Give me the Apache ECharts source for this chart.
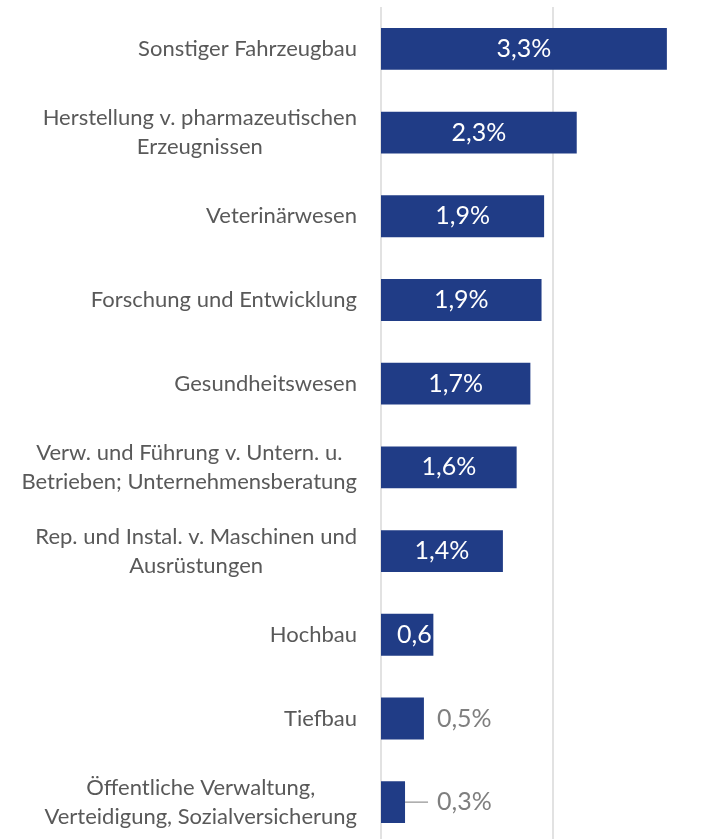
<!DOCTYPE html>
<html>
<head>
<meta charset="utf-8">
<script src="https://cdn.jsdelivr.net/npm/echarts@6/dist/echarts.min.js"></script>
<style>
  html, body { margin: 0; padding: 0; background: #ffffff; }
  #chart { width: 712px; height: 839px; }
</style>
</head>
<body>
<div id="chart"></div>
<script>
// Categories, top to bottom
var categories = [
  'Sonstiger Fahrzeugbau',
  'Herstellung v. pharmazeutischen\nErzeugnissen',
  'Veterinärwesen',
  'Forschung und Entwicklung',
  'Gesundheitswesen',
  'Verw. und Führung v. Untern. u.\nBetrieben; Unternehmensberatung',
  'Rep. und Instal. v. Maschinen und\nAusrüstungen',
  'Hochbau',
  'Tiefbau',
  'Öffentliche Verwaltung,\nVerteidigung, Sozialversicherung'
];
// Values in percent
var values = [3.33, 2.28, 1.90, 1.87, 1.74, 1.58, 1.42, 0.61, 0.50, 0.28];
// Axis ticks (only gridlines visible)
var xTicks = [0, 2, 4];

var BAR = '#203C86';
var FONT = 'Lato';

function fmt(v) { return v.toFixed(1).replace('.', ',') + '%'; }

var data = values.map(function (v, i) {
  var item = { value: v };
  if (v < 0.4) {
    item.label = { position: 'right', distance: 5, color: '#7F7F7F', padding: [0, 0, 0, 9], backgroundColor: 'rgba(255,255,255,0)' };
    item.labelLine = { show: true, lineStyle: { color: '#A6A6A6', width: 1.5 } };
  } else if (v < 0.55) {
    item.label = { position: 'right', distance: 13, color: '#7F7F7F' };
  } else if (v < 1) {
    item.label = { position: 'insideLeft', distance: 16, width: 50, overflow: 'truncate', ellipsis: '' };
  }
  return item;
});

var chart = echarts.init(document.getElementById('chart'), null, { renderer: 'canvas' });
chart.setOption({
  animation: false,
  backgroundColor: '#ffffff',
  grid: { left: 381, top: 7, width: 343.4, height: 837, containLabel: false, outerBoundsMode: 'none' },
  xAxis: {
    type: 'value',
    min: xTicks[0],
    max: xTicks[xTicks.length - 1],
    interval: xTicks[1] - xTicks[0],
    axisLabel: { show: false },
    axisLine: { show: false },
    axisTick: { show: false },
    splitLine: { show: true, showMinLine: true, lineStyle: { color: '#D9D9D9', width: 1.5 } }
  },
  yAxis: {
    type: 'category',
    inverse: true,
    data: categories,
    axisLine: { show: false },
    axisTick: { show: false },
    axisLabel: {
      interval: 0,
      margin: 24,
      align: 'right',
      formatter: function (val) {
        return val.split('\n').map(function (s) { return '{c|' + s + '}'; }).join('\n');
      },
      rich: {
        c: { align: 'center', fontFamily: FONT, fontSize: 22, color: '#595959', lineHeight: 29 }
      }
    }
  },
  series: [{
    type: 'bar',
    data: data,
    barWidth: '50%',
    itemStyle: { color: BAR },
    label: {
      show: true,
      position: 'inside',
      fontFamily: FONT,
      fontSize: 25,
      color: '#FFFFFF',
      formatter: function (p) { return fmt(p.value); }
    },
    labelLine: { show: false },
    labelLayout: function (p) {
      if (values[p.dataIndex] < 0.4) return { dx: 18 };
      return {};
    }
  }]
});
</script>
</body>
</html>
